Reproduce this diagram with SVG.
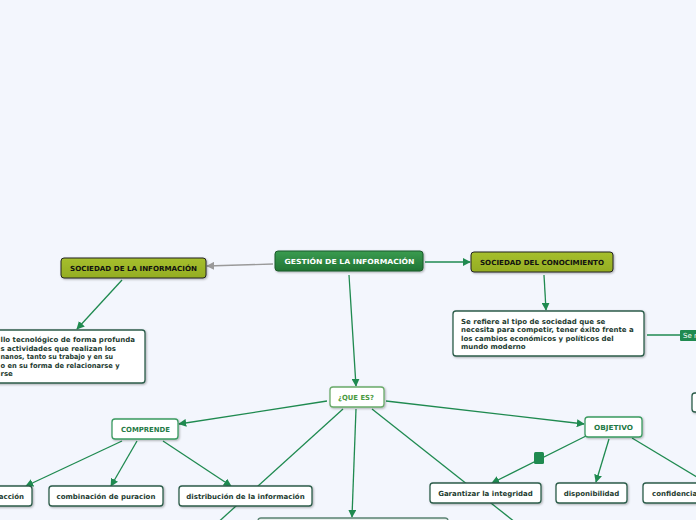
<svg xmlns="http://www.w3.org/2000/svg" width="696" height="520" viewBox="0 0 696 520">
<defs>
<linearGradient id="gRoot" x1="0" y1="0" x2="0" y2="1"><stop offset="0" stop-color="#3a9c50"/><stop offset="1" stop-color="#217434"/></linearGradient>
<linearGradient id="gOlive" x1="0" y1="0" x2="0" y2="1"><stop offset="0" stop-color="#a6bf2e"/><stop offset="1" stop-color="#94ad22"/></linearGradient>
<filter id="sh" x="-10%" y="-20%" width="120%" height="150%"><feDropShadow dx="1" dy="1" stdDeviation="0.8" flood-color="#000" flood-opacity="0.3"/></filter>
<marker id="ag" viewBox="0 0 10 10" refX="9" refY="5" markerWidth="8" markerHeight="8" markerUnits="userSpaceOnUse" orient="auto"><path d="M0,0 L10,5 L0,10 z" fill="#1f8a50"/></marker>
<marker id="ay" viewBox="0 0 10 10" refX="9" refY="5" markerWidth="8" markerHeight="8" markerUnits="userSpaceOnUse" orient="auto"><path d="M0,0 L10,5 L0,10 z" fill="#9a9a9a"/></marker>
</defs>
<style>
.c{stroke:#1f8a50;stroke-width:1.3;fill:none}
.cm{marker-end:url(#ag)}
.t{font-family:"DejaVu Sans",Verdana,sans-serif;font-weight:bold;font-size:7px}
.box{fill:#fff;stroke:#2c5c4a;stroke-width:1.3;filter:url(#sh)}
.dk{fill:#1d3b30}
</style>
<rect width="696" height="520" fill="#f3f6fd"/>
<g id="connectors">
<path d="M273,264 L207,266" stroke="#9a9a9a" stroke-width="1.3" fill="none" marker-end="url(#ay)"/>
<path class="c cm" d="M425,262 L470,262"/>
<path class="c cm" d="M122,280 L77,329"/>
<path class="c cm" d="M544,275 L546,310"/>
<path class="c" d="M647,335 L680,335"/>
<path class="c cm" d="M349,275 L356,386"/>
<path class="c cm" d="M327,401 L179,424"/>
<path class="c cm" d="M386,401 L584,424"/>
<path class="c cm" d="M122,441 L26,486"/>
<path class="c cm" d="M137,441 L111,486"/>
<path class="c cm" d="M163,441 L231,486"/>
<path class="c" d="M343,409 L214,526"/>
<path class="c cm" d="M356,409 L352,517"/>
<path class="c" d="M372,409 L525,530"/>
<path class="c cm" d="M588,435 L492,483"/>
<rect x="534" y="452" width="10" height="12" rx="1.5" fill="#1f8a50"/>
<path class="c cm" d="M609,439 L596,482"/>
<path class="c" d="M632,438 L700,479"/>
</g>
<g id="root"><rect x="275" y="251" width="148" height="20" rx="3" fill="url(#gRoot)" stroke="#1b5a2a" stroke-width="1" filter="url(#sh)"/><text class="t" x="284.5" y="264" textLength="130" lengthAdjust="spacingAndGlyphs" fill="#fff">GESTIÓN DE LA INFORMACIÓN</text></g>
<g id="soc-info"><rect x="61" y="258" width="145" height="20" rx="3" fill="url(#gOlive)" stroke="#222" stroke-width="1" filter="url(#sh)"/><text class="t" x="70" y="271" textLength="127" lengthAdjust="spacingAndGlyphs" fill="#111">SOCIEDAD DE LA INFORMACIÓN</text></g>
<g id="soc-cono"><rect x="471" y="252" width="142" height="20" rx="3" fill="url(#gOlive)" stroke="#222" stroke-width="1" filter="url(#sh)"/><text class="t" x="480" y="265" textLength="124" lengthAdjust="spacingAndGlyphs" fill="#111">SOCIEDAD DEL CONOCIMIENTO</text></g>
<g id="info-text"><rect class="box" x="-6" y="330" width="151" height="53" rx="3"/>
<text class="t dk"><tspan x="0.5" y="342" textLength="134.5" lengthAdjust="spacingAndGlyphs">llo tecnológico de forma profunda</tspan><tspan x="0.5" y="351" textLength="115.5" lengthAdjust="spacingAndGlyphs">s actividades que realizan los</tspan><tspan x="0.5" y="359" textLength="112.5" lengthAdjust="spacingAndGlyphs">nanos, tanto su trabajo y en su</tspan><tspan x="0.5" y="368" textLength="119" lengthAdjust="spacingAndGlyphs">o en su forma de relacionarse y</tspan><tspan x="0.5" y="376">rse</tspan></text></g>
<g id="cono-text"><rect class="box" x="453" y="311" width="191" height="45" rx="3"/>
<text class="t dk"><tspan x="461" y="324">Se refiere al tipo de sociedad que se</tspan><tspan x="461" y="332">necesita para competir, tener éxito frente a</tspan><tspan x="461" y="341">los cambios económicos y políticos del</tspan><tspan x="461" y="349">mundo moderno</tspan></text></g>
<g id="se-r"><rect x="680" y="330" width="22" height="11" rx="1" fill="#1f8a50"/><text x="683" y="338" font-family="DejaVu Sans,sans-serif" font-size="7" fill="#fff">Se r</text></g>
<g id="right-partial"><rect class="box" x="692" y="393" width="12" height="19" rx="3"/></g>
<g id="que-es"><rect x="330" y="387" width="54" height="20" rx="3" fill="#fff" stroke="#6aaa6a" stroke-width="1.3" filter="url(#sh)"/><text class="t" x="338" y="400" textLength="36" lengthAdjust="spacingAndGlyphs" fill="#4a9a40">¿QUE ES?</text></g>
<g id="comprende"><rect x="112" y="419" width="66" height="20" rx="3" fill="#fff" stroke="#3a9a60" stroke-width="1.3" filter="url(#sh)"/><text class="t" x="121" y="432" textLength="49" lengthAdjust="spacingAndGlyphs" fill="#1f7a46">COMPRENDE</text></g>
<g id="objetivo"><rect x="585" y="417" width="57" height="20" rx="3" fill="#fff" stroke="#3a9a60" stroke-width="1.3" filter="url(#sh)"/><text class="t" x="594" y="430" textLength="39" lengthAdjust="spacingAndGlyphs" fill="#1f7a46">OBJETIVO</text></g>
<g id="accion"><rect class="box" x="-10" y="486" width="42" height="20" rx="3"/><text class="t dk" x="24" y="499" text-anchor="end">acción</text></g>
<g id="combinacion"><rect class="box" x="49" y="486" width="114" height="20" rx="3"/><text class="t dk" x="106" y="499" text-anchor="middle">combinación de puracion</text></g>
<g id="distribucion"><rect class="box" x="179" y="486" width="133" height="20" rx="3"/><text class="t dk" x="245.5" y="499" text-anchor="middle">distribución de la información</text></g>
<g id="bottom-mid"><rect x="258" y="518" width="190" height="20" rx="3" fill="#e8efec" stroke="#5a8272" stroke-width="1.3"/></g>
<g id="garantizar"><rect class="box" x="430" y="483" width="111" height="20" rx="3"/><text class="t dk" x="485.5" y="496" text-anchor="middle">Garantizar la integridad</text></g>
<g id="disponibilidad"><rect class="box" x="556" y="483" width="71" height="20" rx="3"/><text class="t dk" x="591.5" y="496" text-anchor="middle">disponibilidad</text></g>
<g id="confidencia"><rect class="box" x="643" y="483" width="62" height="20" rx="3"/><text class="t dk" x="652" y="496">confidencia</text></g>
</svg>
